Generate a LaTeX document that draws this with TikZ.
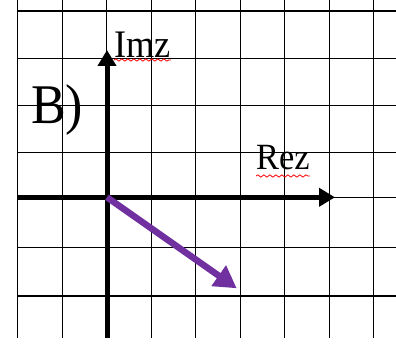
\documentclass[tikz,border=0pt]{standalone}
\usepackage{fontspec}
\setmainfont{Liberation Serif}
\usetikzlibrary{arrows.meta,decorations.pathmorphing}
\definecolor{arrowpurple}{HTML}{7030A0}

\begin{document}
\begin{tikzpicture}[x=1pt,y=-1pt,
  gridline/.style={line width=1.4pt,black},
  axis/.style={line width=5pt,-{Triangle[length=16pt,width=18pt]}},
  vector/.style={line width=6.5pt,arrowpurple,-{Triangle[length=22pt,width=24pt]}},
  squiggle/.style={red,line width=0.8pt,decorate,decoration={snake,amplitude=1.1pt,segment length=6pt}},
  label/.style={inner sep=0pt,anchor=base west}]
\useasboundingbox (0,0) rectangle (396,347);
% grid
\foreach \x in {17.7,62.2,106.7,151.2,195.7,240.2,284.7,329.2,373.7}
  \draw[gridline] (\x,0) -- (\x,338);
\foreach \y in {11,58.7,105.3,152.5,197.3,247.3,296}
  \draw[gridline] (17.7,\y) -- (396,\y);
\coordinate (O) at (107,197.3);
\coordinate (xstart) at (17.7,197.3);
\coordinate (xend) at (335,197.3);
\coordinate (ystart) at (107,338);
\coordinate (yend) at (107,50);
\coordinate (z) at (236.7,288.3);
\node[label] (imz) at (114,57.5) {\scalebox{0.93}[1]{\fontsize{39}{42}\selectfont Imz}};
\node[label] (rez) at (256,170) {\scalebox{0.93}[1]{\fontsize{37}{40}\selectfont Rez}};
\node[label] (part) at (31,123.3) {\scalebox{0.93}[1]{\fontsize{56}{60}\selectfont B)}};
\draw[squiggle] ([yshift=-2.5pt]imz.base west) -- ([yshift=-2.5pt]imz.base east);
\draw[squiggle] ([yshift=-6pt]rez.base west) -- ([yshift=-6pt]rez.base east);
\draw[axis] (xstart) -- (xend);
\draw[axis] (ystart) -- (yend);
\draw[vector] (O) -- (z);
\end{tikzpicture}
\end{document}
